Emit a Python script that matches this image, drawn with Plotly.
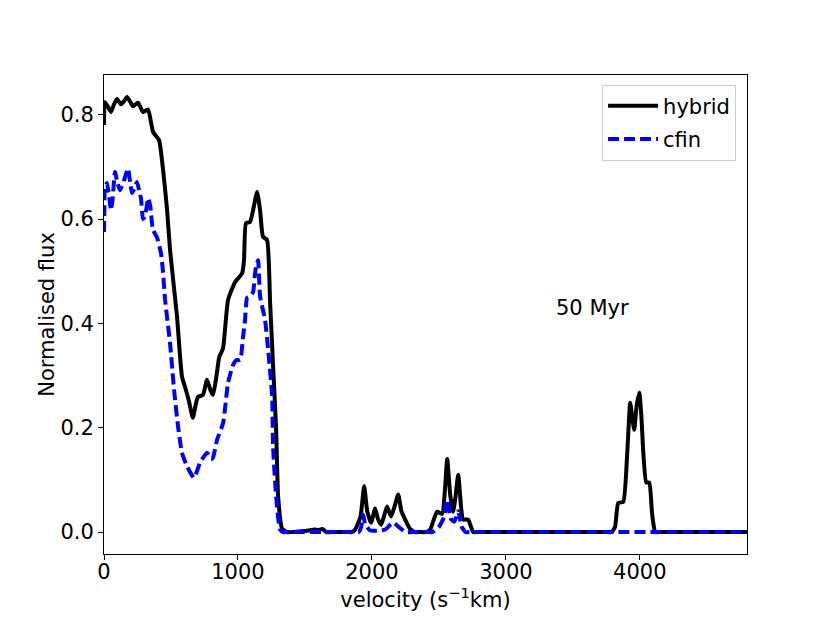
import plotly.graph_objects as go

# hybrid model
hyb_v = [0, 7, 30, 52, 75, 97, 127, 150, 172, 195, 217, 254, 291, 329, 366, 411, 441, 470, 493,
         545, 582, 605, 635, 663, 685, 702, 739, 769, 795, 814, 840, 860, 889, 926, 978, 1031,
         1045, 1060, 1090, 1113, 1143, 1165, 1187, 1217, 1240, 1262, 1285, 1300, 1329, 1366,
         1450, 1530, 1570, 1600, 1630, 1660, 1700, 1820, 1850, 1875, 1915, 1942, 1965, 1994, 2024, 2045,
         2069, 2090, 2113, 2143, 2170, 2196, 2220, 2248, 2285, 2320, 2360, 2400, 2435, 2470, 2487,
         2524, 2545, 2562, 2585, 2606, 2625, 2644, 2665, 2681, 2718, 2740, 2756, 2780, 3760, 3790, 3815,
         3839, 3876, 3906, 3928, 3943, 3958, 3975, 3996, 4012, 4026, 4048, 4070, 4090, 4100,
         4115, 4140, 4780, 4800]
hyb_f = [0.78, 0.824, 0.815, 0.805, 0.82, 0.83, 0.82, 0.826, 0.834, 0.825, 0.816, 0.823, 0.805,
         0.81, 0.767, 0.751, 0.694, 0.62, 0.541,
         0.413, 0.298, 0.278, 0.25, 0.219, 0.245, 0.259, 0.263, 0.292, 0.272, 0.263, 0.30, 0.335,
         0.353, 0.445, 0.479, 0.496,
         0.52, 0.592, 0.594, 0.617, 0.652, 0.617, 0.566, 0.56, 0.439, 0.32, 0.196, 0.068, 0.007, 0.0,
         0.001, 0.003, 0.005, 0.004, 0.006, 0.0, 0.0, 0.0, 0.0, 0.005, 0.03, 0.088, 0.04, 0.018, 0.045, 0.025,
         0.014, 0.03, 0.049, 0.03, 0.05, 0.072, 0.04, 0.024, 0.006, 0.0, 0.0, 0.0, 0.005, 0.03, 0.039,
         0.035, 0.08, 0.14, 0.07, 0.039, 0.07, 0.11, 0.05, 0.024, 0.024, 0.01, 0.0, 0.0, 0.0, 0.0, 0.01,
         0.056, 0.058, 0.152, 0.248, 0.22, 0.196, 0.24, 0.267, 0.22, 0.152, 0.095, 0.095, 0.04, 0.018,
         0.0, 0.0, 0.0, 0.0]

# cfin model
cfin_v = [0, 3, 7, 22, 40, 52, 65, 82, 100, 119, 149, 179, 195, 209, 230, 246, 262, 276, 291,
          306, 330, 345, 365, 395, 425, 440, 456, 493, 523, 553, 582, 620, 672, 717, 769, 800,
          814, 844, 889, 926, 963, 990, 1016, 1038, 1053, 1068, 1090, 1113, 1125, 1135, 1150,
          1165, 1202, 1225, 1255, 1262, 1285, 1314, 1340, 1370, 1870, 1900, 1920, 1934, 1950, 1987,
          2050, 2100, 2158, 2200, 2250, 2300, 2420, 2450, 2500, 2540, 2562, 2590, 2615, 2644, 2670,
          2700, 2730, 4770, 4800]
cfin_f = [0.575, 0.62, 0.661, 0.669, 0.64, 0.617, 0.64, 0.69, 0.67, 0.655, 0.674, 0.697, 0.67,
          0.65, 0.66, 0.671, 0.655, 0.64, 0.6,
          0.605, 0.64, 0.625, 0.58, 0.565, 0.535, 0.5, 0.445, 0.362, 0.273, 0.202, 0.152, 0.126,
          0.104, 0.133, 0.152, 0.14,
          0.143, 0.177, 0.209, 0.286, 0.32, 0.33, 0.33, 0.374, 0.407, 0.449, 0.452, 0.46, 0.49,
          0.508, 0.521,
          0.452, 0.407, 0.35, 0.26, 0.164, 0.068, 0.005, 0.0, 0.0, 0.0, 0.0, 0.01, 0.033, 0.015, 0.003,
          0.003, 0.005, 0.018, 0.01, 0.0, 0.0, 0.0, 0.0, 0.01, 0.03, 0.062, 0.025, 0.02, 0.04, 0.01,
          0.0, 0.0, 0.0, 0.0]

x_ticks = [0, 1000, 2000, 3000, 4000]
y_ticks = [0.0, 0.2, 0.4, 0.6, 0.8]

FONT = "DejaVu Sans"
FS = 21

fig = go.Figure()
fig.add_trace(go.Scatter(x=hyb_v, y=hyb_f, mode="lines", name="hybrid", legendgroup="a",
                         line=dict(color="black", width=4, shape="spline", smoothing=0.5)))
fig.add_trace(go.Scatter(x=cfin_v, y=cfin_f, mode="lines", name="cfin", legendgroup="b",
                         line=dict(color="blue", width=4, dash="11px,5px", shape="spline",
                                   smoothing=0.5)))

fig.add_annotation(x=3360, y=0.43, text="50 Myr", showarrow=False, xanchor="left",
                   yanchor="middle", font=dict(size=FS, color="black", family=FONT))

axis_common = dict(showline=True, mirror=True, linecolor="black", linewidth=1, ticks="outside",
                   ticklen=5, tickwidth=1, tickcolor="black", showgrid=False, zeroline=False,
                   tickfont=dict(size=FS, color="black", family=FONT))

fig.update_xaxes(range=[0, 4800], tickvals=x_ticks, ticktext=[str(t) for t in x_ticks],
                 ticklabelstandoff=-6,
                 title=dict(text="velocity (s<sup>−1</sup>km)", font=dict(size=FS, color="black", family=FONT),
                            standoff=2), **axis_common)
fig.update_yaxes(range=[-0.042, 0.876], tickvals=y_ticks, tickformat=".1f",
                 title=dict(text="Normalised flux", font=dict(size=FS, color="black", family=FONT),
                            standoff=0), **axis_common)

fig.update_layout(
    width=830, height=623,
    margin=dict(l=96, r=91, t=67, b=77),
    plot_bgcolor="white", paper_bgcolor="white",
    font=dict(family=FONT, size=FS, color="black"),
    showlegend=True,
    legend=dict(x=0.983, y=0.98, xanchor="right", yanchor="top", bgcolor="white",
                bordercolor="#cccccc", borderwidth=1, font=dict(size=FS, color="black", family=FONT),
                tracegroupgap=3, traceorder="grouped", itemwidth=50),
)

fig.write_html("out.html")
